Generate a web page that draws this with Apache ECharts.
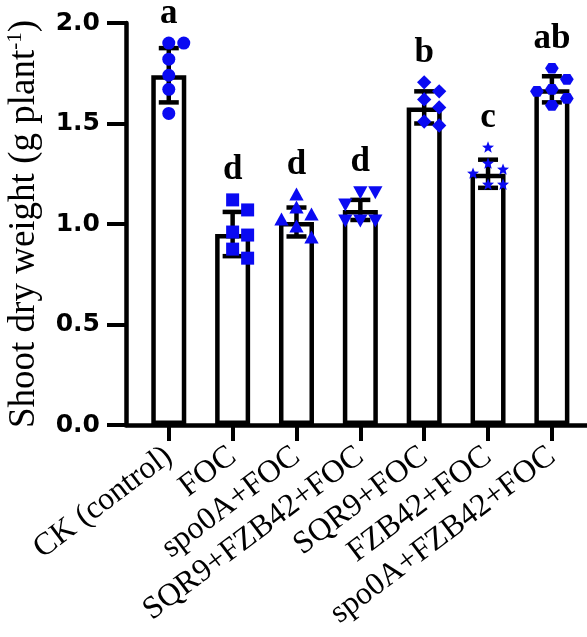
<!DOCTYPE html>
<html>
<head>
<meta charset="utf-8">
<script src="https://cdn.jsdelivr.net/npm/echarts@6/dist/echarts.min.js"></script>
<style>
html,body{margin:0;padding:0;background:#fff;}
#chart{width:587px;height:637px;}
</style>
</head>
<body>
<div id="chart"></div>
<script>
// ---- data ----
const categories = ['CK (control)', 'FOC', 'spo0A+FOC', 'SQR9+FZB42+FOC', 'SQR9+FOC', 'FZB42+FOC', 'spo0A+FZB42+FOC'];
const means = [1.74, 0.95, 1.01, 1.07, 1.58, 1.25, 1.67];
const sds = [0.135, 0.11, 0.072, 0.05, 0.08, 0.07, 0.065];
const pointsCK = [1.90, 1.90, 1.82, 1.74, 1.67, 1.55];
const pointsFOC = [1.12, 1.07, 0.96, 0.945, 0.875, 0.83];
const pointsSpo0A = [1.145, 1.08, 1.045, 1.02, 0.985, 0.93];
const pointsSQR9FZB42 = [1.16, 1.16, 1.10, 1.02, 1.02, 1.02];
const pointsSQR9 = [1.705, 1.66, 1.62, 1.58, 1.51, 1.49];
const pointsFZB42 = [1.38, 1.30, 1.27, 1.25, 1.195, 1.195];
const pointsSpo0AFZB42 = [1.775, 1.72, 1.67, 1.66, 1.625, 1.59];
const letters = ['a', 'd', 'd', 'd', 'b', 'c', 'ab'];
const yTicks = [0, 0.5, 1.0, 1.5, 2.0];

const groups = [pointsCK, pointsFOC, pointsSpo0A, pointsSQR9FZB42, pointsSQR9, pointsFZB42, pointsSpo0AFZB42];
const groupSymbols = ['circle', 'square', 'triangle', 'triangleDown', 'diamond', 'star', 'hexagon'];
const catIdx = categories.map((c, i) => i);

// ---- helpers ----
const pointData = [];
groups.forEach((g, gi) => g.forEach((v, pi) => pointData.push([gi, v, pi])));

function swarm(vals, thr) {
  const placed = [], cols = [], cand = [0, 1, -1, 2, -2];
  vals.forEach(v => {
    for (const c of cand) {
      if (placed.every(p => p.c !== c || Math.abs(p.v - v) >= thr)) {
        placed.push({c, v}); cols.push(c); break;
      }
    }
  });
  return cols;
}
let swarmCache = null;

function shapeEl(kind, cx, cy, s, style) {
  const r = s / 2;
  let pts;
  switch (kind) {
    case 'circle': return {type: 'circle', shape: {cx, cy, r}, style};
    case 'square': return {type: 'rect', shape: {x: cx - r, y: cy - r, width: s, height: s}, style};
    case 'triangle': pts = [[cx, cy - r * 1.15], [cx + r * 1.1, cy + r * 0.85], [cx - r * 1.1, cy + r * 0.85]]; break;
    case 'triangleDown': pts = [[cx, cy + r * 1.15], [cx + r * 1.1, cy - r * 0.85], [cx - r * 1.1, cy - r * 0.85]]; break;
    case 'diamond': pts = [[cx, cy - r * 1.1], [cx + r * 1.1, cy], [cx, cy + r * 1.1], [cx - r * 1.1, cy]]; break;
    case 'star': {
      pts = [];
      for (let k = 0; k < 10; k++) {
        const a = -Math.PI / 2 + k * Math.PI / 5;
        const rr = k % 2 === 0 ? r * 1.05 : r * 0.45;
        pts.push([cx + rr * Math.cos(a), cy + rr * Math.sin(a)]);
      }
      break;
    }
    case 'hexagon': {
      pts = [];
      for (let k = 0; k < 6; k++) {
        const a = k * Math.PI / 3;
        pts.push([cx + r * 1.05 * Math.cos(a), cy + r * 0.95 * Math.sin(a)]);
      }
      break;
    }
  }
  return {type: 'polygon', shape: {points: pts}, style};
}

const serif = '"Liberation Serif", "Times New Roman", serif';
const chart = echarts.init(document.getElementById('chart'));

const option = {
  animation: false,
  backgroundColor: '#fff',
  grid: {left: 126, right: 0, top: 23, bottom: 212, containLabel: false, outerBoundsMode: 'none'},
  xAxis: {
    type: 'value',
    min: -0.67,
    max: 6.55,
    axisLine: {show: true, onZero: false, lineStyle: {color: '#000', width: 4.5}},
    axisTick: {show: true, customValues: catIdx, length: 16, lineStyle: {color: '#000', width: 4}},
    axisLabel: {
      customValues: catIdx,
      formatter: v => categories[Math.round(v)],
      rotate: 37,
      margin: 28,
      color: '#000',
      fontFamily: serif,
      fontSize: 32
    },
    splitLine: {show: false}
  },
  yAxis: {
    type: 'value',
    min: 0,
    max: 2,
    interval: 0.5,
    axisLine: {show: true, onZero: false, lineStyle: {color: '#000', width: 4.5}},
    axisTick: {show: true, length: 19, lineStyle: {color: '#000', width: 4}},
    axisLabel: {
      margin: 26,
      formatter: v => v.toFixed(1),
      color: '#000',
      fontFamily: '"DejaVu Sans", sans-serif',
      fontWeight: 'bold',
      fontSize: 25
    },
    splitLine: {show: false},
    name: 'Shoot dry weight (g plant{sup|-1})',
    nameLocation: 'middle',
    nameGap: 82,
    nameTextStyle: {
      color: '#000',
      fontFamily: serif,
      fontSize: 37,
      rich: {sup: {fontFamily: serif, fontSize: 21, verticalAlign: 'top', padding: [0, 0, 18, 0], color: '#000'}}
    }
  },
  series: [
    {
      type: 'bar',
      data: means.map((m, i) => [i, m]),
      barWidth: 35,
      itemStyle: {color: '#fff', borderColor: '#000', borderWidth: 4.5},
      silent: true,
      z: 2
    },
    {
      type: 'custom',
      data: means.map((m, i) => [i, m, sds[i]]),
      encode: {x: 0, y: 1},
      z: 3,
      silent: true,
      renderItem: (params, api) => {
        const i = api.value(0), m = api.value(1), sd = api.value(2);
        const top = api.coord([i, m + sd]);
        const bot = api.coord([i, m - sd]);
        const hw = 10;
        const st = {stroke: '#000', lineWidth: 4.5, fill: null};
        return {type: 'group', children: [
          {type: 'line', shape: {x1: top[0], y1: top[1], x2: bot[0], y2: bot[1]}, style: st},
          {type: 'line', shape: {x1: top[0] - hw, y1: top[1], x2: top[0] + hw, y2: top[1]}, style: st},
          {type: 'line', shape: {x1: bot[0] - hw, y1: bot[1], x2: bot[0] + hw, y2: bot[1]}, style: st}
        ]};
      }
    },
    {
      type: 'custom',
      data: pointData,
      encode: {x: 0, y: 1},
      z: 4,
      silent: true,
      renderItem: (params, api) => {
        const g = api.value(0), v = api.value(1), pi = api.value(2);
        if (!swarmCache) {
          const ppu = api.size([1, 1])[1];
          swarmCache = groups.map(vals => swarm(vals, 13 / ppu));
        }
        const c = api.coord([g, v]);
        const dx = swarmCache[g][pi] * 15;
        const kind = groupSymbols[g];
        const size = kind === 'star' ? 12 : 13;
        return shapeEl(kind, c[0] + dx, c[1], size, {fill: '#0a0af2', stroke: null});
      }
    },
    {
      type: 'custom',
      data: letters.map((l, i) => [i, Math.max(means[i] + sds[i], Math.max(...groups[i]))]),
      encode: {x: 0, y: 1},
      z: 5,
      silent: true,
      renderItem: (params, api) => {
        const i = api.value(0), t = api.value(1);
        const c = api.coord([i, t]);
        return {type: 'text', style: {
          text: letters[i], x: c[0], y: c[1] - 12,
          align: 'center', verticalAlign: 'bottom',
          fontFamily: serif, fontWeight: 'bold', fontSize: 35, fill: '#000'
        }};
      }
    }
  ]
};
chart.setOption(option);
</script>
</body>
</html>
